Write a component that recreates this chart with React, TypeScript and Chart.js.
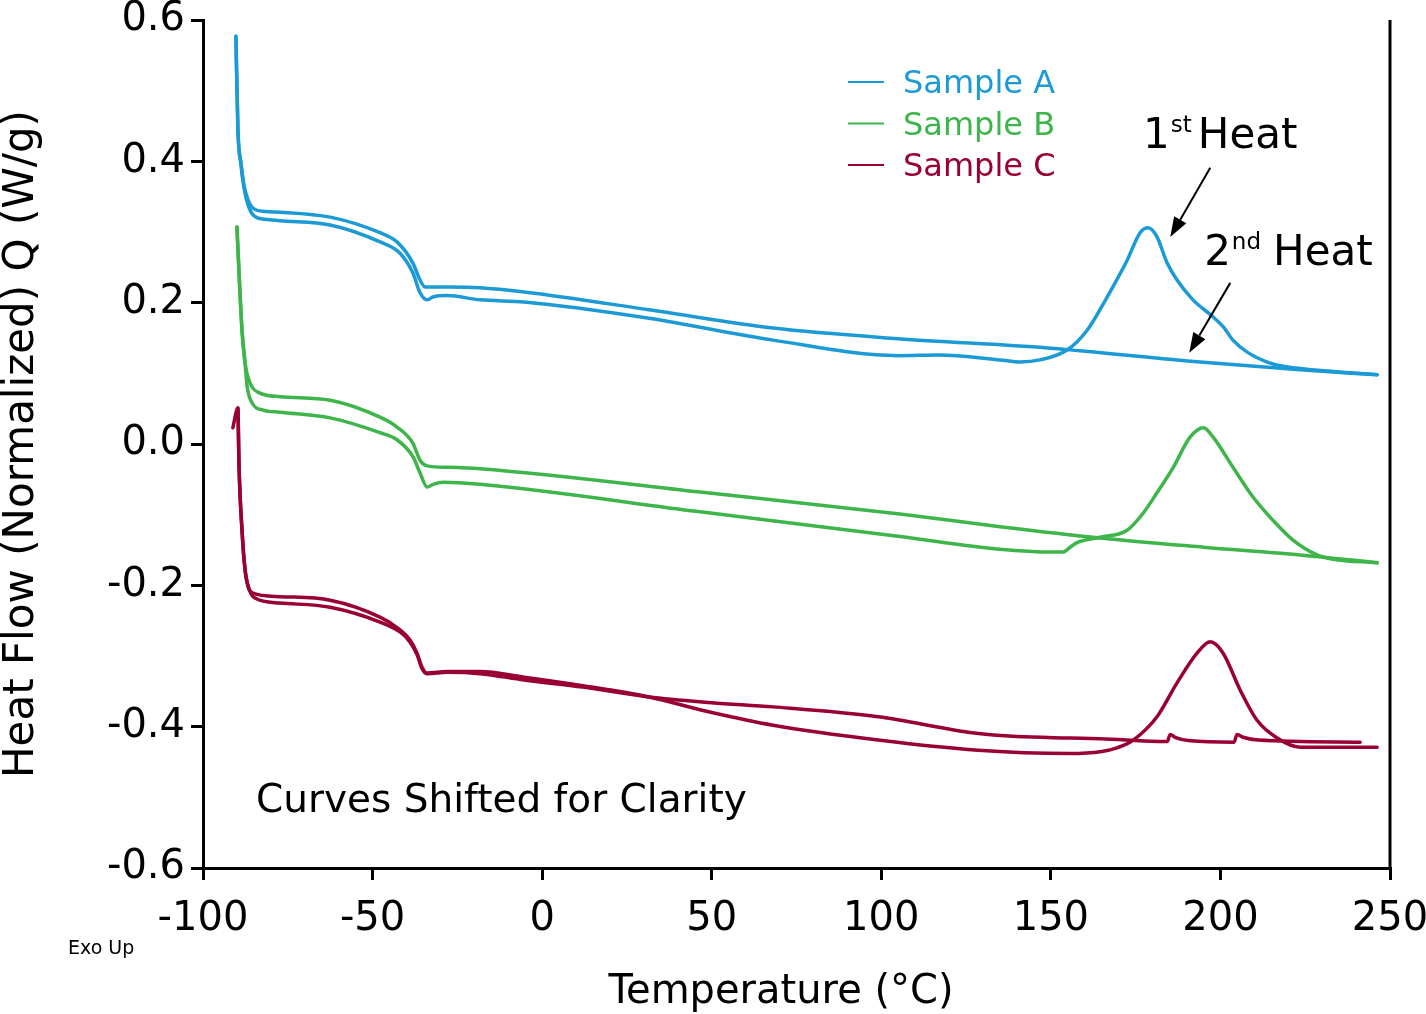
import { useEffect, useRef } from 'react';
import { Chart, registerables } from 'chart.js';

Chart.register(...registerables);

const FONT = "'DejaVu Sans', sans-serif";

// Temperature (°C) / heat flow (W/g), curves already shifted
// Sample A - first heat (melting peak) and second heat
const sampleA1T = [-90.3, -89.7, -88.8, -87.9, -86.7, -85.0, -81.7, -77.3, -62.5, -47.8, -41.9, -38.1, -36.0, -33.9, -32.2, -28.0, -18.3, -5.3, 31.5, 68.1, 105.0, 117.0, 135.0, 140.9, 146.8, 154.8, 160.7, 166.6, 172.5, 176.3, 178.7, 181.3, 184.3, 187.2, 191.9, 197.8, 200.8, 203.7, 207.9, 213.8, 218.5, 235.3, 246.2];
const sampleA1Q = [0.577, 0.444, 0.395, 0.362, 0.338, 0.323, 0.318, 0.316, 0.310, 0.286, 0.270, 0.242, 0.214, 0.204, 0.208, 0.210, 0.204, 0.201, 0.178, 0.147, 0.125, 0.126, 0.119, 0.116, 0.119, 0.133, 0.161, 0.208, 0.260, 0.299, 0.306, 0.293, 0.256, 0.232, 0.204, 0.180, 0.166, 0.147, 0.130, 0.116, 0.110, 0.102, 0.098];
const sampleA2T = [-90.3, -89.7, -88.8, -87.9, -86.7, -85.3, -81.7, -77.3, -62.5, -47.8, -42.8, -38.1, -36.0, -34.5, -28.0, -18.3, -5.3, 31.5, 68.1, 104.9, 148.9, 194.0, 223.5, 246.2];
const sampleA2Q = [0.577, 0.444, 0.398, 0.366, 0.345, 0.334, 0.329, 0.328, 0.321, 0.299, 0.286, 0.256, 0.232, 0.222, 0.222, 0.221, 0.215, 0.190, 0.164, 0.149, 0.136, 0.116, 0.105, 0.098];

// Sample B
const sampleB1T = [-90.0, -88.5, -87.6, -87.0, -85.5, -82.3, -77.3, -62.5, -47.8, -42.8, -38.1, -36.0, -33.9, -32.2, -29.2, -18.3, 46.6, 105.5, 135.0, 150.0, 153.6, 155.7, 158.0, 164.5, 172.5, 177.2, 181.3, 186.1, 191.1, 195.0, 197.8, 203.7, 209.6, 215.5, 221.4, 228.5, 233.2, 246.2];
const sampleB1Q = [0.307, 0.161, 0.115, 0.082, 0.058, 0.048, 0.045, 0.037, 0.016, 0.006, -0.018, -0.041, -0.061, -0.057, -0.054, -0.057, -0.096, -0.131, -0.149, -0.153, -0.153, -0.146, -0.139, -0.132, -0.122, -0.098, -0.069, -0.033, 0.010, 0.023, 0.010, -0.033, -0.075, -0.108, -0.136, -0.157, -0.163, -0.168];
const sampleB2T = [-90.0, -88.5, -87.6, -86.1, -83.2, -77.3, -62.5, -47.8, -42.8, -38.1, -36.0, -33.9, -28.0, -18.3, 46.6, 105.5, 135.0, 164.5, 195.0, 223.5, 246.2];
const sampleB2Q = [0.307, 0.161, 0.115, 0.086, 0.072, 0.067, 0.062, 0.038, 0.024, 0.001, -0.023, -0.031, -0.033, -0.035, -0.068, -0.099, -0.117, -0.133, -0.146, -0.157, -0.168];

// Sample C
const sampleC1T = [-91.2, -89.7, -89.4, -88.5, -87.6, -86.7, -85.3, -77.3, -62.5, -47.8, -41.9, -39.0, -36.9, -35.4, -34.0, -28.0, -18.3, -5.3, 12.0, 31.5, 50.0, 68.1, 99.1, 127.4, 155.7, 165.0, 169.5, 174.3, 181.3, 187.2, 193.1, 197.0, 200.8, 205.8, 210.8, 216.7, 223.5, 246.2];
const sampleC1Q = [0.023, 0.051, -0.027, -0.122, -0.178, -0.202, -0.211, -0.216, -0.221, -0.245, -0.263, -0.277, -0.296, -0.316, -0.324, -0.322, -0.322, -0.330, -0.342, -0.358, -0.380, -0.398, -0.419, -0.433, -0.438, -0.435, -0.430, -0.419, -0.386, -0.338, -0.296, -0.280, -0.296, -0.348, -0.391, -0.416, -0.429, -0.429];
const sampleC2T = [-89.7, -89.4, -88.5, -87.6, -86.4, -84.7, -77.3, -62.5, -47.8, -41.9, -39.0, -36.9, -35.4, -34.0, -28.0, -18.3, -5.3, 12.0, 31.5, 50.0, 68.1, 99.1, 127.4, 140.0, 155.7, 164.5, 184.3, 185.2, 186.6, 191.1, 204.0, 204.9, 206.7, 211.1, 241.2];
const sampleC2Q = [0.051, -0.027, -0.122, -0.178, -0.205, -0.218, -0.225, -0.231, -0.252, -0.266, -0.280, -0.298, -0.318, -0.325, -0.323, -0.325, -0.334, -0.344, -0.358, -0.366, -0.372, -0.386, -0.409, -0.414, -0.416, -0.417, -0.421, -0.411, -0.415, -0.420, -0.422, -0.411, -0.415, -0.419, -0.422];

const sampleNames = ['Sample A', 'Sample B', 'Sample C'];
const sampleColors = ['#1B9AD6', '#3DB54A', '#990033'];

const curves = [
  { sample: 0, t: sampleA1T, q: sampleA1Q },
  { sample: 0, t: sampleA2T, q: sampleA2Q },
  { sample: 1, t: sampleB1T, q: sampleB1Q },
  { sample: 1, t: sampleB2T, q: sampleB2Q },
  { sample: 2, t: sampleC1T, q: sampleC1Q },
  { sample: 2, t: sampleC2T, q: sampleC2Q },
];

const toPoints = (t: number[], q: number[]) => t.map((x, i) => ({ x, y: q[i] }));

const drawArrow = (ctx: CanvasRenderingContext2D, x1: number, y1: number, x2: number, y2: number) => {
  const ang = Math.atan2(y2 - y1, x2 - x1);
  const headLen = 20;
  const headW = 7;
  const bx = x2 - headLen * Math.cos(ang);
  const by = y2 - headLen * Math.sin(ang);
  ctx.beginPath();
  ctx.moveTo(x1, y1);
  ctx.lineTo(bx, by);
  ctx.stroke();
  ctx.beginPath();
  ctx.moveTo(x2, y2);
  ctx.lineTo(bx + headW * Math.sin(ang), by - headW * Math.cos(ang));
  ctx.lineTo(bx - headW * Math.sin(ang), by + headW * Math.cos(ang));
  ctx.closePath();
  ctx.fill();
};

// legend, heat labels, arrows and notes
const notesPlugin = {
  id: 'dscNotes',
  afterDraw(chart: Chart) {
    const { ctx, chartArea: area, scales } = chart;
    const px = (t: number) => scales.x.getPixelForValue(t);
    const py = (q: number) => scales.y.getPixelForValue(q);
    ctx.save();

    // right frame line
    ctx.strokeStyle = '#000';
    ctx.lineWidth = 3;
    ctx.beginPath();
    ctx.moveTo(area.right, area.top);
    ctx.lineTo(area.right, area.bottom);
    ctx.stroke();

    // x axis title (sits a little left of the axis centre)
    ctx.fillStyle = '#000';
    ctx.textAlign = 'center';
    ctx.textBaseline = 'alphabetic';
    ctx.font = `40px ${FONT}`;
    ctx.fillText('Temperature (°C)', 781, 1003);

    // legend
    ctx.textAlign = 'left';
    ctx.font = `32px ${FONT}`;
    sampleNames.forEach((name, i) => {
      const base = 93 + i * 41.5;
      ctx.strokeStyle = sampleColors[i];
      ctx.lineWidth = 2;
      ctx.beginPath();
      ctx.moveTo(848, base - 11);
      ctx.lineTo(884, base - 11);
      ctx.stroke();
      ctx.fillStyle = sampleColors[i];
      ctx.fillText(name, 903, base);
    });

    // 1st / 2nd heat labels
    ctx.fillStyle = '#000';
    const heatLabel = (x: number, base: number, num: string, sup: string, gap: number) => {
      ctx.font = `42px ${FONT}`;
      ctx.fillText(num, x, base);
      const w = ctx.measureText(num).width;
      ctx.font = `23px ${FONT}`;
      ctx.fillText(sup, x + w + 1, base - 16);
      const ws = ctx.measureText(sup).width;
      ctx.font = `42px ${FONT}`;
      ctx.fillText('Heat', x + w + 1 + ws + gap, base);
    };
    heatLabel(px(177.2), py(0.419), '1', 'st', 6);
    heatLabel(px(195.2), py(0.253), '2', 'nd', 12);

    ctx.strokeStyle = '#000';
    ctx.lineWidth = 2;
    drawArrow(ctx, px(197.0), py(0.391), px(185.2), py(0.293));
    drawArrow(ctx, px(202.9), py(0.228), px(190.8), py(0.129));

    ctx.font = `39px ${FONT}`;
    ctx.fillText('Curves Shifted for Clarity', 256, 812);

    ctx.font = `19px ${FONT}`;
    ctx.fillText('Exo Up', 68, 954);

    ctx.restore();
  },
};

const axisFont = { family: FONT, size: 40 };

const DscChart = () => {
  const canvasRef = useRef<HTMLCanvasElement | null>(null);
  const chartRef = useRef<Chart | null>(null);

  useEffect(() => {
    document.body.style.margin = '0';
    if (!canvasRef.current) return;

    if (chartRef.current) chartRef.current.destroy();

    chartRef.current = new Chart(canvasRef.current, {
      type: 'scatter',
      data: {
        datasets: curves.map(c => ({
          label: sampleNames[c.sample],
          data: toPoints(c.t, c.q),
          showLine: true,
          borderColor: sampleColors[c.sample],
          backgroundColor: sampleColors[c.sample],
          borderWidth: 3.5,
          borderCapStyle: 'round' as const,
          borderJoinStyle: 'round' as const,
          pointRadius: 0,
          pointHoverRadius: 0,
          cubicInterpolationMode: 'monotone' as const,
        })),
      },
      options: {
        responsive: false,
        animation: false,
        layout: { padding: { top: 20, right: 36, bottom: 0, left: 0 } },
        plugins: {
          legend: { display: false },
          tooltip: { enabled: false },
        },
        scales: {
          x: {
            type: 'linear',
            min: -100,
            max: 250,
            ticks: {
              stepSize: 50,
              color: '#000',
              font: axisFont,
              padding: 16,
              maxRotation: 0,
              autoSkip: false,
            },
            grid: {
              drawOnChartArea: false,
              drawTicks: true,
              tickLength: 12,
              tickWidth: 3,
              tickColor: '#000',
              lineWidth: 3,
              color: '#000',
            },
            border: { display: true, color: '#000', width: 3 },
            title: { display: false },
            afterFit: (s: any) => {
              s.height = 146;
              s.paddingLeft = 0;
              s.paddingRight = 0;
            },
          },
          y: {
            type: 'linear',
            min: -0.6,
            max: 0.6,
            ticks: {
              stepSize: 0.2,
              color: '#000',
              font: axisFont,
              padding: 6,
              callback: (v: any) => {
                const n = Number(v);
                return (Math.abs(n) < 1e-9 ? 0 : n).toFixed(1);
              },
            },
            grid: {
              drawOnChartArea: false,
              drawTicks: true,
              tickLength: 12,
              tickWidth: 3,
              tickColor: '#000',
              lineWidth: 3,
              color: '#000',
            },
            border: { display: true, color: '#000', width: 3 },
            title: {
              display: true,
              text: 'Heat Flow (Normalized) Q (W/g)',
              color: '#000',
              font: { family: FONT, size: 42, lineHeight: 1.05 },
              padding: 0,
            },
            afterFit: (s: any) => {
              s.width = 203;
              s.paddingTop = 0;
              s.paddingBottom = 0;
            },
          },
        },
      },
      plugins: [notesPlugin],
    });

    return () => {
      if (chartRef.current) {
        chartRef.current.destroy();
        chartRef.current = null;
      }
    };
  }, []);

  return (
    <div style={{ width: 1426, height: 1014, background: '#fff' }}>
      <canvas ref={canvasRef} width={1426} height={1014} style={{ display: 'block' }} />
    </div>
  );
};

export default function App() {
  return <DscChart />;
}
